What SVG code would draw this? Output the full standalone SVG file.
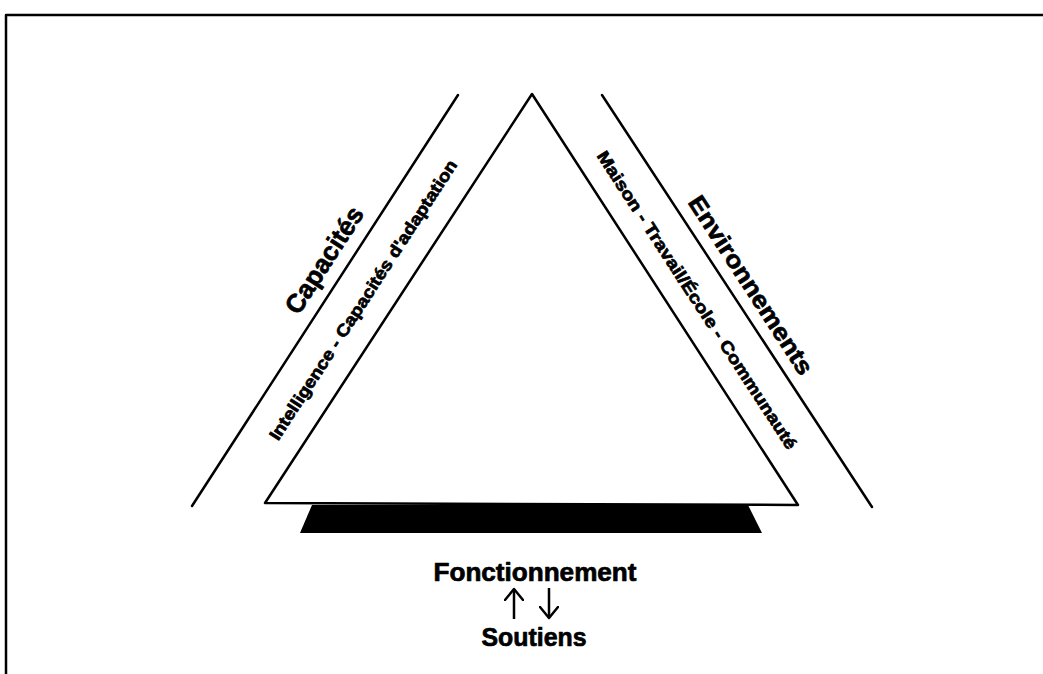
<svg xmlns="http://www.w3.org/2000/svg" width="1043" height="674" viewBox="0 0 1043 674">
<style>
.ln{fill:none;stroke:#000;stroke-width:2.5;stroke-linecap:round;stroke-linejoin:round}
.t{font-family:"Liberation Sans",Arial,sans-serif;font-weight:bold;fill:#000;stroke:#000;stroke-width:0.7;stroke-linejoin:round;text-anchor:middle}
.c{stroke:#000;stroke-width:2.5;fill:none}
</style>
<defs>
<marker id="ah" viewBox="0 0 14 20" refX="12" refY="10" markerWidth="14" markerHeight="20" markerUnits="userSpaceOnUse" orient="auto"><path d="M1,1 L12,10 L1,19" fill="none" stroke="#000" stroke-width="2.5" stroke-linecap="round" stroke-linejoin="round"/></marker>
</defs>
<rect width="1043" height="674" fill="#fff"/>
<g id="frame">
<path class="ln" d="M6,674 L6,15 L1043,15"/>
</g>
<g id="capacites">
<line class="ln" x1="458" y1="95" x2="192" y2="506"/>
<text class="t" font-size="26" transform="translate(324,260) rotate(-57)" dy="0.35em" textLength="122" lengthAdjust="spacingAndGlyphs">Capacités</text>
<text class="t" font-size="17" transform="translate(363,300) rotate(-57)" dy="0.35em" textLength="330" lengthAdjust="spacingAndGlyphs">Intelligence - Capacités d'adaptation</text>
</g>
<g id="environnements">
<line class="ln" x1="602" y1="95" x2="872" y2="507"/>
<text class="t" font-size="24" transform="translate(751,285) rotate(57)" dy="0.35em" textLength="208" lengthAdjust="spacingAndGlyphs">Environnements</text>
<text class="t" font-size="17" transform="translate(697,300) rotate(57)" dy="0.35em" textLength="352" lengthAdjust="spacingAndGlyphs">Maison - Travail/École - Communauté</text>
</g>
<g id="triangle">
<polygon class="ln" points="532,94 265,503 798,505"/>
</g>
<g id="base">
<polygon points="312,505 748,505 762,533 300,533" fill="#000"/>
</g>
<g id="fonctionnement">
<text class="t" x="535" y="581" font-size="25" textLength="203" lengthAdjust="spacingAndGlyphs">Fonctionnement</text>
</g>
<g id="soutiens">
<text class="t" x="534" y="646" font-size="26" textLength="105" lengthAdjust="spacingAndGlyphs">Soutiens</text>
</g>
<g id="connectors">
<line class="c" x1="514" y1="619" x2="514" y2="589" marker-end="url(#ah)"/>
<line class="c" x1="549" y1="588" x2="549" y2="618" marker-end="url(#ah)"/>
</g>
</svg>
